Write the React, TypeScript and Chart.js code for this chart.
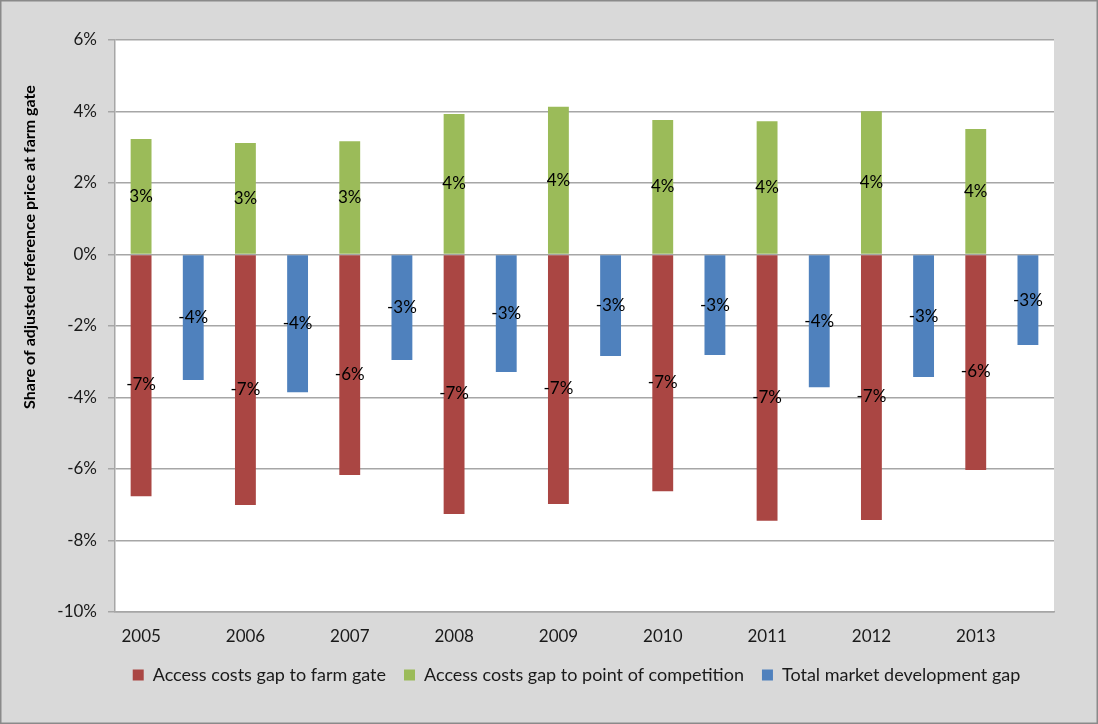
import { useEffect, useRef } from "react";
import { Chart, registerables } from "chart.js";

Chart.register(...registerables);

// Years on the category axis
const years = ["2005", "2006", "2007", "2008", "2009", "2010", "2011", "2012", "2013"];

// Gap series, as percentage of the adjusted reference price at farm gate
const farmGateGap = [-6.76, -7.01, -6.17, -7.26, -6.98, -6.62, -7.45, -7.43, -6.03];
const competitionGap = [3.23, 3.12, 3.17, 3.93, 4.13, 3.76, 3.73, 4.01, 3.51];
const marketDevelopmentGap = [-3.51, -3.85, -2.95, -3.29, -2.84, -2.81, -3.71, -3.43, -2.53];

const seriesNames = [
  "Access costs gap to farm gate",
  "Access costs gap to point of competition",
  "Total market development gap",
];

// Value axis range
const yMin = -10;
const yMax = 6;
const yStep = 2;

const yAxisTitle = "Share of adjusted reference price at farm gate";

const FONT = "Lato";
const TEXT = "#1a1a1a";
const GRID = "#a6a6a6";

// Vertical nudge of the value labels, per series (px)
const labelNudge = [9, 0, 0];

// Grey frame with white plot area
const frame = {
  id: "frame",
  beforeDraw(chart: Chart) {
    const { ctx, width, height, chartArea } = chart;
    ctx.save();
    ctx.fillStyle = "#d9d9d9";
    ctx.fillRect(0, 0, width, height);
    ctx.strokeStyle = "#8a8a8a";
    ctx.lineWidth = 1.5;
    ctx.strokeRect(0.75, 0.75, width - 1.5, height - 1.5);
    ctx.fillStyle = "#ffffff";
    ctx.fillRect(chartArea.left, chartArea.top, chartArea.right - chartArea.left, chartArea.bottom - chartArea.top);
    ctx.restore();
  },
};

// Rotated axis title, placed beside the upper part of the value axis
const axisTitle = {
  id: "axisTitle",
  afterDraw(chart: Chart) {
    const { ctx } = chart;
    ctx.save();
    ctx.translate(30, 247);
    ctx.rotate(-Math.PI / 2);
    ctx.font = `bold 16px ${FONT}`;
    ctx.fillStyle = "#000";
    ctx.textAlign = "center";
    ctx.textBaseline = "middle";
    ctx.fillText(yAxisTitle, 0, 0);
    ctx.restore();
  },
};

// Rounded value labels inside every bar
const valueLabels = {
  id: "valueLabels",
  afterDatasetsDraw(chart: Chart) {
    const { ctx } = chart;
    ctx.save();
    ctx.font = `17px ${FONT}`;
    ctx.fillStyle = "#000";
    ctx.textAlign = "center";
    ctx.textBaseline = "middle";
    chart.data.datasets.forEach((ds, i) => {
      const meta = chart.getDatasetMeta(i);
      meta.data.forEach((bar: any, j: number) => {
        const v = ds.data[j] as number;
        const { x, y, base } = bar.getProps(["x", "y", "base"], true);
        ctx.fillText(`${Math.round(v)}%`, x, (y + base) / 2 + (labelNudge[i] || 0));
      });
    });
    ctx.restore();
  },
};

// Centre the legend row under the plot
const legendShift = {
  id: "legendShift",
  afterLayout(chart: any) {
    const lg = chart.legend;
    if (lg) {
      lg.left -= 8;
      lg.right -= 8;
    }
  },
};

export default function App() {
  const ref = useRef<HTMLCanvasElement>(null);

  useEffect(() => {
    document.body.style.margin = "0";
    const chart = new Chart(ref.current!, {
      type: "bar",
      data: {
        labels: years,
        datasets: [
          { label: seriesNames[0], data: farmGateGap, backgroundColor: "#aa4643", stack: "access" },
          { label: seriesNames[1], data: competitionGap, backgroundColor: "#9bbb59", stack: "access" },
          { label: seriesNames[2], data: marketDevelopmentGap, backgroundColor: "#4f81bd", stack: "market" },
        ],
      },
      options: {
        animation: false,
        responsive: false,
        devicePixelRatio: 1,
        categoryPercentage: 1,
        barPercentage: 0.4,
        layout: { padding: { top: 40, right: 44, bottom: 30, left: 0 } },
        scales: {
          x: {
            stacked: true,
            grid: { display: false, drawTicks: false },
            border: { display: true, color: GRID, width: 1.5 },
            ticks: {
              font: { family: FONT, size: 17 },
              color: TEXT,
              padding: 14,
              labelOffset: -26,
              maxRotation: 0,
            },
            afterFit(scale: any) {
              scale.height = 36;
            },
          },
          y: {
            stacked: true,
            min: yMin,
            max: yMax,
            grid: { color: GRID, lineWidth: 1.5, tickLength: 7 },
            border: { display: true, color: GRID, width: 1.5 },
            ticks: {
              stepSize: yStep,
              font: { family: FONT, size: 17 },
              color: TEXT,
              padding: 11,
              callback: (v: any) => `${v}%`,
            },
            afterFit(scale: any) {
              scale.width = 115;
            },
          },
        },
        plugins: {
          legend: {
            position: "bottom",
            fullSize: false,
            labels: {
              boxWidth: 11,
              boxHeight: 11,
              padding: 18,
              color: TEXT,
              font: { family: FONT, size: 18 },
            },
          },
          tooltip: { enabled: false },
        },
      },
      plugins: [frame, valueLabels, axisTitle, legendShift],
    });
    return () => chart.destroy();
  }, []);

  return <canvas ref={ref} width={1098} height={724} style={{ display: "block" }} />;
}
